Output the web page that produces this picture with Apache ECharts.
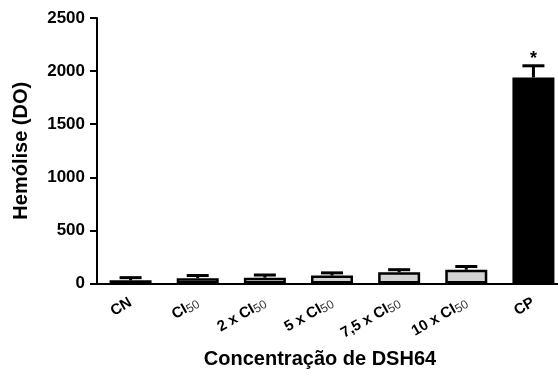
<!DOCTYPE html>
<html>
<head>
<meta charset="utf-8">
<script src="https://cdn.jsdelivr.net/npm/echarts@6/dist/echarts.min.js"></script>
<style>
  html, body { margin: 0; padding: 0; background: #fff; }
  #chart { width: 558px; height: 376px; }
</style>
</head>
<body>
<div id="chart"></div>
<script>
// Hemolysis (optical density) per DSH64 concentration group
const categories = ['CN', 'CI50', '2 x CI50', '5 x CI50', '7,5 x CI50', '10 x CI50', 'CP'];
const means = [30, 50, 55, 75, 105, 130, 1940];
const errors = [25, 25, 25, 25, 25, 30, 110];
const significance = ['', '', '', '', '', '', '*'];
const barFills = ['#000000', '#d3d3d3', '#d3d3d3', '#d3d3d3', '#d3d3d3', '#d3d3d3', '#000000'];
const yTicks = { min: 0, max: 2500, interval: 500 };

const FONT = 'Liberation Sans, Arial, sans-serif';

// Axis labels: "CI50" style names get the "50" rendered as a subscript
function formatCategory(name) {
  const m = name.match(/^(.*CI)50$/);
  return m ? m[1] + '{sub|50}' : name;
}

const chart = echarts.init(document.getElementById('chart'), null, { renderer: 'canvas' });

chart.setOption({
  animation: false,
  backgroundColor: '#ffffff',
  grid: { left: 97, top: 18, bottom: 92.5, width: 470, containLabel: false, outerBoundsMode: 'none' },
  xAxis: {
    type: 'category',
    data: categories,
    name: 'Concentração de DSH64',
    nameLocation: 'middle',
    nameGap: 66,
    nameTextStyle: { fontFamily: FONT, fontWeight: 'bold', fontSize: 20, color: '#000', padding: [0, 24, 0, 0] },
    axisLine: { lineStyle: { color: '#000', width: 2 } },
    axisTick: { alignWithLabel: true, length: 7, lineStyle: { color: '#000', width: 2 } },
    axisLabel: {
      rotate: 30,
      margin: 18,
      interval: 0,
      formatter: formatCategory,
      color: '#000',
      fontFamily: FONT,
      fontWeight: 'bold',
      fontSize: 15,
      rich: {
        sub: { fontFamily: FONT, fontWeight: 'normal', fontSize: 12, color: '#333', verticalAlign: 'bottom', padding: [5, 0, 0, 0] }
      }
    }
  },
  yAxis: {
    type: 'value',
    min: yTicks.min,
    max: yTicks.max,
    interval: yTicks.interval,
    name: 'Hemólise (DO)',
    nameLocation: 'middle',
    nameGap: 66,
    nameTextStyle: { fontFamily: FONT, fontWeight: 'bold', fontSize: 20, color: '#000' },
    axisLine: { show: true, lineStyle: { color: '#000', width: 2 } },
    axisTick: { show: true, length: 7, lineStyle: { color: '#000', width: 2 } },
    axisLabel: {
      color: '#000', fontFamily: FONT, fontWeight: 'bold', fontSize: 17, margin: 12,
      formatter: function (v) { return String(v); }
    },
    splitLine: { show: false }
  },
  series: [
    {
      type: 'bar',
      data: means.map((v, i) => ({ value: v, itemStyle: { color: barFills[i] } })),
      barWidth: 42,
      itemStyle: { borderColor: '#000', borderWidth: 2.5 },
      z: 2
    },
    {
      // Upper error bars with caps, plus significance marks above them
      type: 'custom',
      data: means.map((v, i) => [i, v, errors[i], significance[i]]),
      z: 3,
      renderItem: function (params, api) {
        const i = api.value(0);
        const mean = api.value(1);
        const err = api.value(2);
        const mark = significance[i];
        const base = api.coord([i, mean]);
        const top = api.coord([i, mean + err]);
        const capHalf = 11;
        const style = { stroke: '#000', lineWidth: 3 };
        const children = [
          { type: 'line', shape: { x1: base[0], y1: base[1], x2: top[0], y2: top[1] }, style: style },
          { type: 'line', shape: { x1: top[0] - capHalf, y1: top[1], x2: top[0] + capHalf, y2: top[1] }, style: style }
        ];
        if (mark) {
          children.push({
            type: 'text',
            style: {
              text: mark, x: top[0], y: top[1] + 2,
              align: 'center', verticalAlign: 'bottom',
              fill: '#000', font: 'bold 18px ' + FONT
            }
          });
        }
        return { type: 'group', children: children };
      }
    }
  ]
});
</script>
</body>
</html>
